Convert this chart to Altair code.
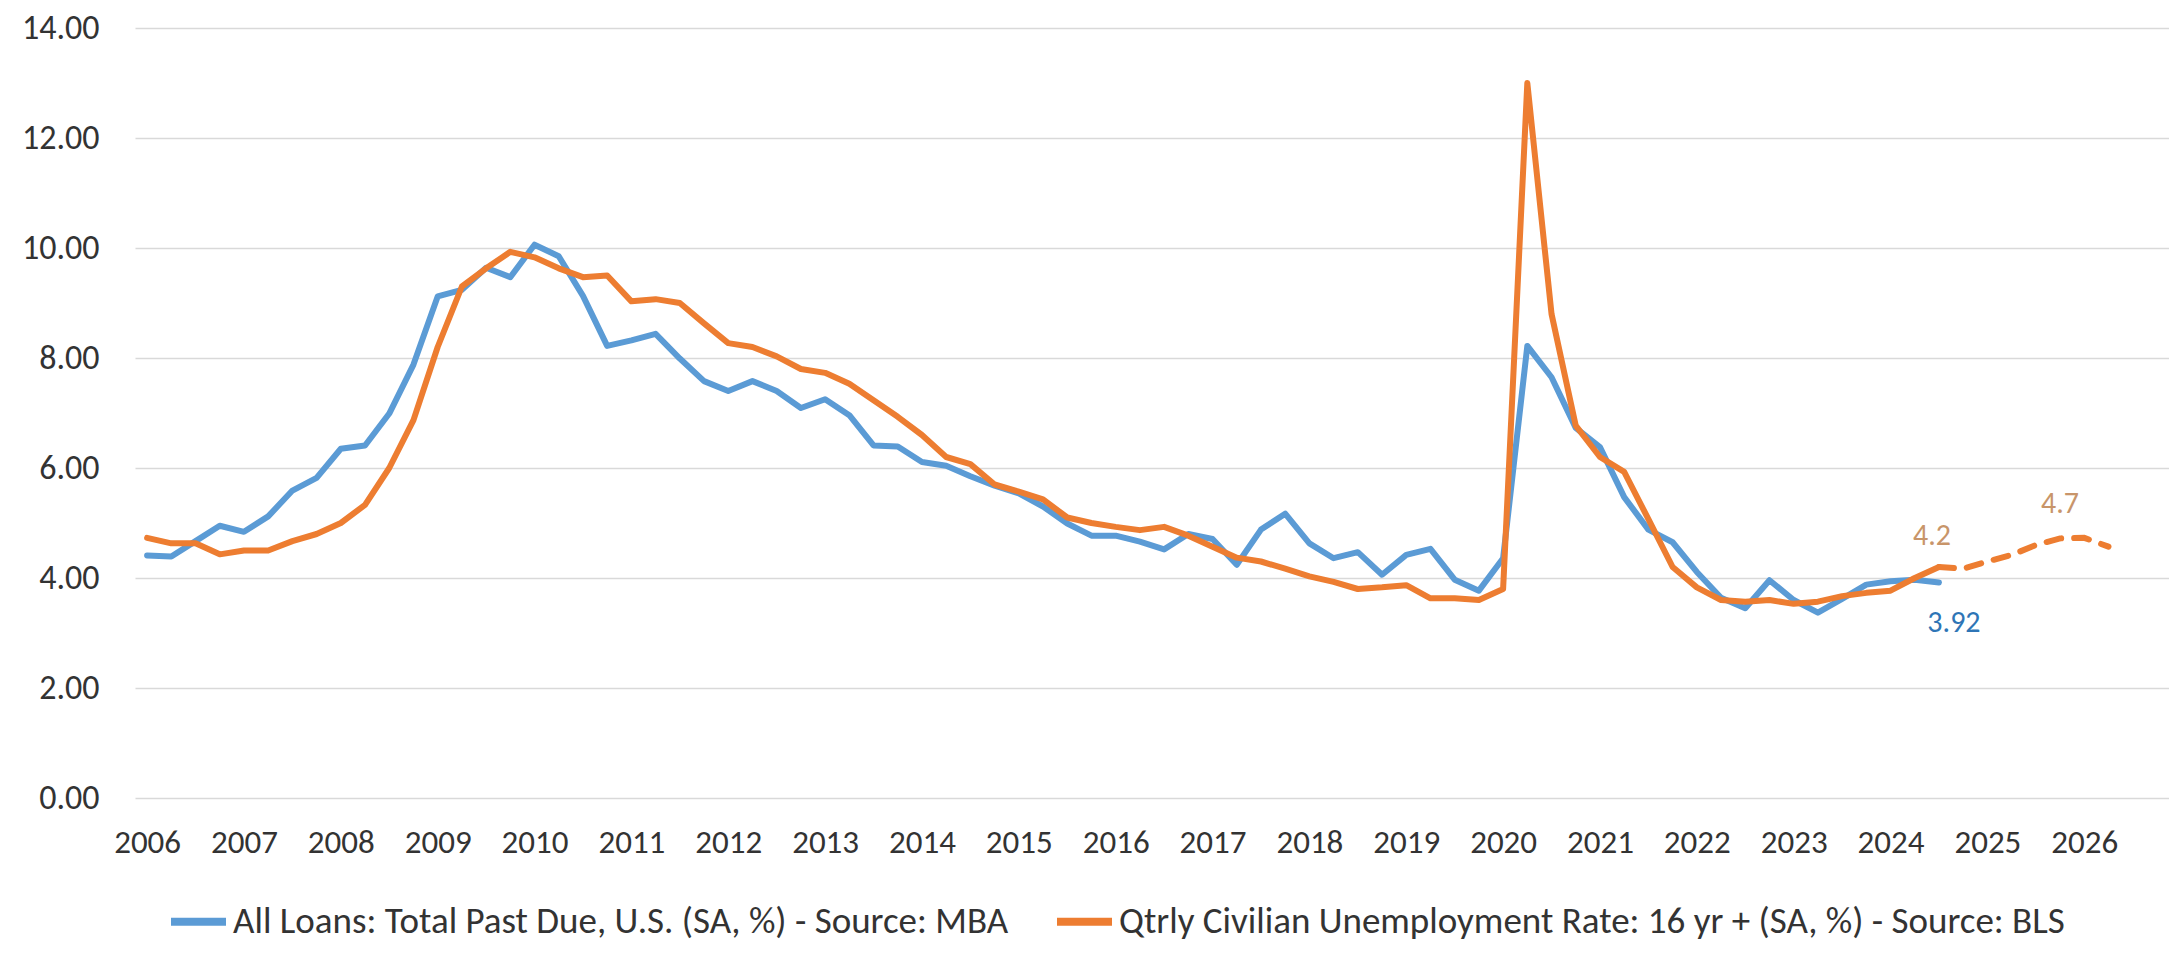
import altair as alt
import pandas as pd

# ---------------- data ----------------
years = list(range(2006, 2027))
quarters = [f"{y} Q{i}" for y in years for i in range(1, 5)]
tick_quarters = [f"{y} Q1" for y in years]

# MBA total past due, all loans (SA, %), 2006 Q1 .. 2024 Q3
loans = [
    4.41, 4.39, 4.67, 4.95,
    4.84, 5.12, 5.59, 5.82,
    6.35, 6.41, 6.99, 7.88,
    9.12, 9.24, 9.64, 9.47,
    10.06, 9.85, 9.13, 8.22,
    8.32, 8.44, 7.99, 7.58,
    7.40, 7.58, 7.40, 7.09,
    7.25, 6.96, 6.41, 6.39,
    6.11, 6.04, 5.85, 5.68,
    5.54, 5.30, 4.99, 4.77,
    4.77, 4.66, 4.52, 4.80,
    4.71, 4.24, 4.88, 5.17,
    4.63, 4.36, 4.47, 4.06,
    4.42, 4.53, 3.97, 3.77,
    4.36, 8.22, 7.65, 6.73,
    6.38, 5.47, 4.88, 4.65,
    4.11, 3.64, 3.45, 3.96,
    3.60, 3.37, 3.62, 3.88,
    3.94, 3.97, 3.92,
]

# Quarterly civilian unemployment rate (SA, %), 2006 Q1 .. 2024 Q3
unemp = [
    4.73, 4.63, 4.63, 4.43,
    4.50, 4.50, 4.67, 4.80,
    5.00, 5.33, 6.00, 6.87,
    8.20, 9.30, 9.63, 9.93,
    9.83, 9.63, 9.47, 9.50,
    9.03, 9.07, 9.00, 8.63,
    8.27, 8.20, 8.03, 7.80,
    7.73, 7.53, 7.23, 6.93,
    6.60, 6.20, 6.07, 5.70,
    5.57, 5.43, 5.10, 5.00,
    4.93, 4.87, 4.93, 4.77,
    4.57, 4.37, 4.30, 4.17,
    4.03, 3.93, 3.80, 3.83,
    3.87, 3.63, 3.63, 3.60,
    3.80, 13.00, 8.80, 6.77,
    6.20, 5.93, 5.07, 4.20,
    3.83, 3.60, 3.57, 3.60,
    3.53, 3.57, 3.67, 3.73,
    3.77, 4.00, 4.20,
]

# Forecast, 2024 Q3 .. 2026 Q2
forecast = [4.20, 4.17, 4.30, 4.42, 4.60, 4.72, 4.73, 4.57]

blue_name = "All Loans: Total Past Due, U.S. (SA, %) - Source: MBA"
orange_name = "Qtrly Civilian Unemployment Rate: 16 yr + (SA, %) - Source:  BLS"

BLUE = "#5B9BD5"
ORANGE = "#ED7D31"
FONT = "Carlito, 'Liberation Sans Narrow', Lato, sans-serif"

rows = []
for q, v in zip(quarters, loans):
    rows.append({"quarter": q, "value": v, "series": blue_name})
for q, v in zip(quarters, unemp):
    rows.append({"quarter": q, "value": v, "series": orange_name})
actual_df = pd.DataFrame(rows)

fc_start = quarters.index("2024 Q3")
fc_df = pd.DataFrame({"quarter": quarters[fc_start:fc_start + len(forecast)],
                      "value": forecast})

blue_lbl = pd.DataFrame({"quarter": ["2024 Q3"], "value": [loans[-1]],
                         "label": [f"{loans[-1]:.2f}"]})
orange_lbl1 = pd.DataFrame({"quarter": ["2024 Q3"], "value": [forecast[0]],
                            "label": [f"{forecast[0]:.1f}"]})
orange_lbl2 = pd.DataFrame({"quarter": [quarters[fc_start + 5]], "value": [forecast[5]],
                            "label": [f"{forecast[5]:.1f}"]})

x_enc = alt.X("quarter:O",
              scale=alt.Scale(type="point", domain=quarters, padding=0.5),
              axis=alt.Axis(values=tick_quarters,
                            labelExpr="slice(datum.label, 0, 4)",
                            labelAngle=0, ticks=False, domain=False, grid=False,
                            labelFontSize=33, labelFont=FONT, labelColor="#333333",
                            labelPadding=28, title=None))
y_enc = alt.Y("value:Q",
              scale=alt.Scale(domain=[0, 14], nice=False, zero=True),
              axis=alt.Axis(values=list(range(0, 15, 2)), format=".2f",
                            ticks=False, domain=False, grid=True,
                            gridColor="#D9D9D9", gridWidth=1.5,
                            labelFontSize=34, labelFont=FONT, labelColor="#333333",
                            labelPadding=36, title=None))

lines = alt.Chart(actual_df).mark_line(strokeWidth=6, strokeCap="round",
                                        strokeJoin="round").encode(
    x=x_enc, y=y_enc,
    color=alt.Color("series:N",
                    scale=alt.Scale(domain=[blue_name, orange_name],
                                    range=[BLUE, ORANGE]),
                    legend=alt.Legend(orient="none", legendX=32, legendY=862,
                                      direction="horizontal", title=None,
                                      symbolType="stroke", symbolStrokeWidth=8,
                                      symbolSize=3025, labelFontSize=37,
                                      labelFont=FONT, labelColor="#333333",
                                      labelLimit=3000, columnPadding=32,
                                      labelOffset=3)),
    order=alt.Order("series:N"),
)

dashed = alt.Chart(fc_df).mark_line(strokeWidth=6, color=ORANGE,
                                     strokeDash=[15, 13], strokeCap="round").encode(
    x="quarter:O", y="value:Q")

t_blue = alt.Chart(blue_lbl).mark_text(fontSize=30, font=FONT, color="#2E75B6",
                                       dx=15, dy=41).encode(
    x="quarter:O", y="value:Q", text="label:N")
t_or1 = alt.Chart(orange_lbl1).mark_text(fontSize=30, font=FONT, color="#C8956A",
                                         dx=-7, dy=-31).encode(
    x="quarter:O", y="value:Q", text="label:N")
t_or2 = alt.Chart(orange_lbl2).mark_text(fontSize=30, font=FONT, color="#C8956A",
                                         dx=0, dy=-34).encode(
    x="quarter:O", y="value:Q", text="label:N")

chart = alt.layer(lines, dashed, t_blue, t_or1, t_or2).properties(
    width=2034, height=770,
    autosize=alt.AutoSizeParams(type="none"),
    padding={"left": 127, "top": 20, "right": 0, "bottom": 147},
    background="white",
).configure_view(stroke=None)

chart.save("out.html", embed_options={"renderer": "svg", "actions": False})
